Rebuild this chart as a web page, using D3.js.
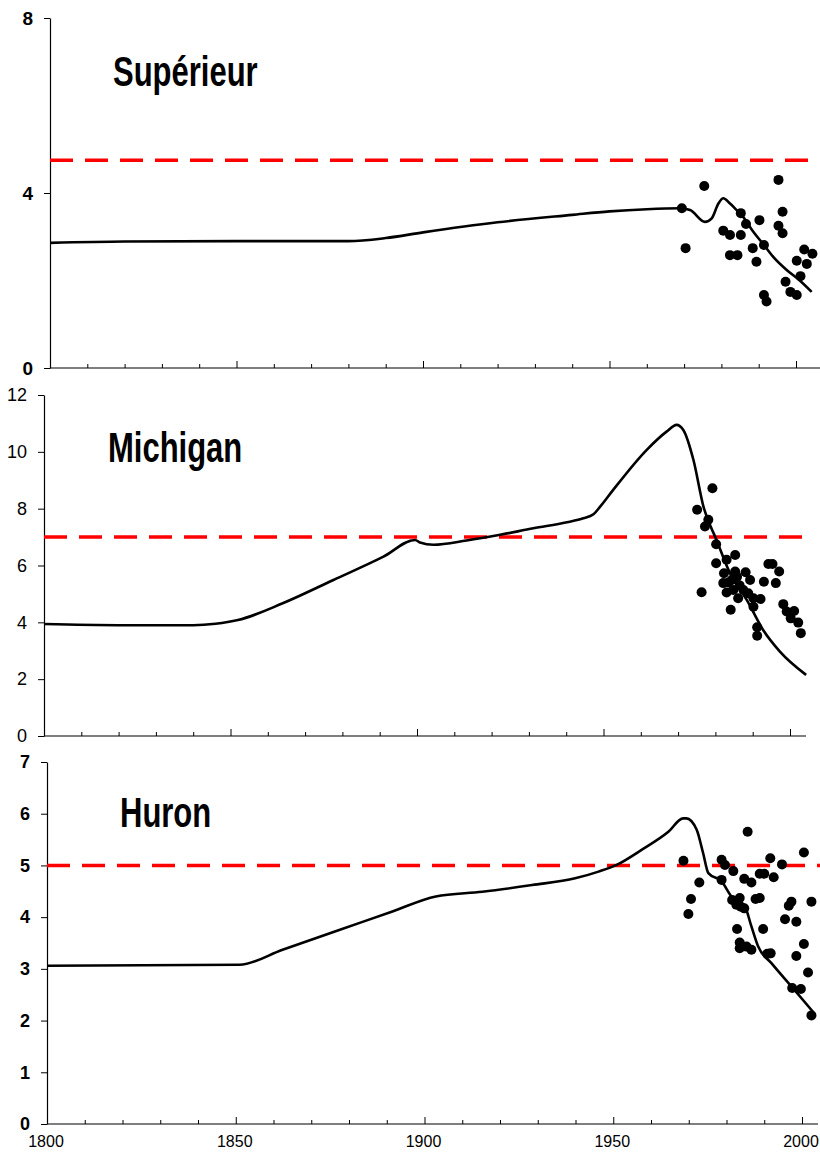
<!DOCTYPE html>
<html>
<head>
<meta charset="utf-8">
<script src="https://cdn.jsdelivr.net/npm/d3@7"></script>
<style>
  body { margin: 0; background: #fff; }
  svg { display: block; font-family: "Liberation Sans", Arial, sans-serif; }
</style>
</head>
<body>
<svg id="chart" width="820" height="1162"></svg>
<script>
// Lake Superior
const supLineYears = [1800, 1820, 1850, 1880, 1890, 1900, 1920, 1940, 1950, 1960, 1969, 1971.6, 1975.6, 1977.4, 1979.2, 1980.5, 1982.3, 1984.1, 1985.4, 1988.5, 1991.4, 1993.9, 1997.5, 2001, 2004.2];
const supLineValues = [2.86, 2.89, 2.9, 2.9, 2.97, 3.1, 3.33, 3.5, 3.58, 3.63, 3.65, 3.61, 3.34, 3.42, 3.76, 3.88, 3.76, 3.61, 3.5, 3.12, 2.81, 2.54, 2.24, 2.0, 1.74];
const supPointYears = [1969.4, 1975.4, 1970.4, 1980.5, 1982.3, 1985.2, 1985.2, 1986.6, 1982.3, 1984.3, 1988.4, 1990.2, 1989.4, 1991.4, 1991.4, 1992.1, 1995.3, 1996.4, 1995.3, 1996.4, 1997.2, 1998.5, 2000.2, 2001.2, 2000.2, 2002.2, 2002.9, 2004.4];
const supPointValues = [3.65, 4.16, 2.74, 3.14, 3.04, 3.04, 3.54, 3.29, 2.58, 2.58, 2.74, 3.38, 2.43, 2.81, 1.67, 1.52, 4.30, 3.57, 3.25, 3.08, 1.97, 1.74, 1.67, 2.10, 2.45, 2.71, 2.38, 2.61];
const supTarget = 4.75;

// Lake Michigan
const micLineYears = [1800, 1820, 1840, 1846, 1852, 1864, 1877.6, 1891, 1899.5, 1900.8, 1904.4, 1913.3, 1922.3, 1931.2, 1940.2, 1944.6, 1947.3, 1949.1, 1952.6, 1961.6, 1966.9, 1969.6, 1971.4, 1974.1, 1976.8, 1980.3, 1983.9, 1988.4, 1992.8, 1997.3, 2004.3];
const micLineValues = [3.94, 3.9, 3.9, 3.95, 4.08, 4.67, 5.49, 6.31, 6.9, 6.81, 6.73, 6.88, 7.08, 7.31, 7.52, 7.66, 7.8, 8.07, 8.66, 10.07, 10.71, 10.95, 10.77, 9.72, 8.07, 6.9, 5.73, 4.79, 3.73, 2.97, 2.15];
const micPointYears = [1979.2, 1975.1, 1978.1, 1977.2, 1980.2, 1980.2, 1983, 1985.3, 1982.3, 1985.3, 1988.1, 1982.1, 1983.5, 1984.4, 1989.3, 1983, 1984.8, 1987.5, 1986.1, 1988.8, 1990.2, 1992.1, 1976.3, 1984.1, 1990.2, 1991.2, 1991.2, 1993, 1994.2, 1995.3, 1997.1, 1996.2, 1998.2, 1999.1, 2001.1, 2000.2, 2002.2, 2002.9, 1986.5, 1985.8];
const micPointValues = [8.72, 7.96, 7.61, 7.37, 6.75, 6.08, 6.20, 6.37, 5.73, 5.79, 5.76, 5.38, 5.40, 5.49, 5.49, 5.05, 5.14, 5.14, 4.85, 5.02, 4.85, 4.82, 5.06, 4.44, 4.55, 3.83, 3.53, 5.43, 6.05, 6.05, 5.79, 5.38, 4.64, 4.38, 4.40, 4.14, 3.99, 3.62, 5.3, 5.6];
const micTarget = 7;

// Lake Huron
const hurLineYears = [1800, 1851, 1862.4, 1877.4, 1891.5, 1903, 1915.3, 1928.5, 1939.9, 1946.1, 1950.9, 1957.5, 1964.6, 1968.5, 1969.4, 1972.1, 1973.8, 1975.2, 1978.7, 1981.3, 1984.9, 1986.6, 1988.4, 1991.9, 1997.2, 2002.9];
const hurLineValues = [3.06, 3.08, 3.37, 3.75, 4.11, 4.40, 4.49, 4.62, 4.75, 4.88, 5.01, 5.30, 5.65, 5.91, 5.91, 5.69, 5.24, 4.85, 4.69, 4.40, 4.20, 3.82, 3.43, 3.11, 2.66, 2.17];
const hurPointYears = [1968.6, 1970.6, 1969.9, 1972.8, 1978.7, 1979.6, 1978.7, 1981.8, 1985.6, 1984.7, 1986.6, 1988.8, 1990.0, 1991.6, 1992.5, 1994.7, 2000.5, 1981.5, 1983.5, 1982.6, 1983.8, 1984.7, 1987.7, 1988.8, 1982.8, 1983.5, 1983.5, 1985.3, 1986.6, 1989.7, 1990.8, 1991.7, 1996.5, 1997.2, 1995.5, 1998.5, 2002.5, 2000.5, 1998.5, 2001.6, 1997.4, 1999.7, 2002.5];
const hurPointValues = [5.09, 4.35, 4.06, 4.67, 5.11, 5.01, 4.72, 4.89, 5.65, 4.74, 4.67, 4.84, 4.84, 5.14, 4.77, 5.02, 5.25, 4.33, 4.37, 4.24, 4.20, 4.17, 4.35, 4.37, 3.77, 3.51, 3.40, 3.43, 3.37, 3.77, 3.29, 3.30, 4.22, 4.30, 3.96, 3.91, 4.30, 3.48, 3.25, 2.93, 2.63, 2.61, 2.10];
const hurTarget = 5;

const xTickYears = d3.range(1800, 2001, 10);
const xLabelYears = [1800, 1850, 1900, 1950, 2000];

const panels = [
  { title: 'Supérieur', lineYears: supLineYears, lineValues: supLineValues,
    pointYears: supPointYears, pointValues: supPointValues, target: supTarget,
    yMax: 8, yTicks: [0, 4, 8], x0: 50, x2000: 796, xEnd: 820, dashEnd: 820,
    top: 18, bottom: 368, titleX: 113, titleY: 86, tickWeight: 'bold', tickFont: 19 },
  { title: 'Michigan', lineYears: micLineYears, lineValues: micLineValues,
    pointYears: micPointYears, pointValues: micPointValues, target: micTarget,
    yMax: 12, yTicks: d3.range(0, 13, 2), x0: 44, x2000: 790, xEnd: 806, dashEnd: 807,
    top: 395, bottom: 736, titleX: 108, titleY: 462, tickWeight: 'normal', tickFont: 18 },
  { title: 'Huron', lineYears: hurLineYears, lineValues: hurLineValues,
    pointYears: hurPointYears, pointValues: hurPointValues, target: hurTarget,
    yMax: 7, yTicks: d3.range(0, 8), x0: 47, x2000: 802, xEnd: 818, dashEnd: 820,
    top: 762, bottom: 1124, titleX: 120, titleY: 827, tickWeight: 'bold', tickFont: 18, xLabels: true }
];

const svg = d3.select('#chart');

panels.forEach(p => {
  const x = d3.scaleLinear().domain([1800, 2000]).range([p.x0, p.x2000]);
  const y = d3.scaleLinear().domain([0, p.yMax]).range([p.bottom, p.top]);
  const g = svg.append('g');

  // y axis
  const yAxis = g.append('g')
    .attr('transform', 'translate(' + p.x0 + ',0)')
    .call(d3.axisLeft(y).tickValues(p.yTicks).tickFormat(d3.format('d'))
      .tickSize(6).tickSizeOuter(0).tickPadding(11));
  yAxis.select('.domain').attr('stroke', '#000').attr('stroke-width', 1.2);
  yAxis.selectAll('.tick line').attr('stroke', '#000');
  yAxis.selectAll('.tick text')
    .attr('fill', '#000')
    .style('font-size', p.tickFont + 'px')
    .style('font-weight', p.tickWeight);

  // x axis, ticks pointing up, long ones every 50 years
  const xAxis = g.append('g')
    .attr('transform', 'translate(0,' + p.bottom + ')')
    .call(d3.axisBottom(x).tickValues(xTickYears).tickSize(-4).tickSizeOuter(0).tickFormat(''));
  xAxis.select('.domain').remove();
  xAxis.selectAll('.tick line')
    .attr('stroke', '#000')
    .attr('y2', d => (d % 50 === 0 ? -7 : -4));
  g.append('line')
    .attr('x1', p.x0).attr('x2', p.xEnd)
    .attr('y1', p.bottom).attr('y2', p.bottom)
    .attr('stroke', '#000').attr('stroke-width', 1.2);

  if (p.xLabels) {
    g.selectAll('.xlab')
      .data(xLabelYears)
      .enter()
      .append('text')
      .attr('x', d => x(d) - 1)
      .attr('y', p.bottom + 23)
      .attr('text-anchor', 'middle')
      .style('font-size', '16px')
      .text(d => d);
  }

  // target line
  g.append('line')
    .attr('x1', p.x0).attr('x2', p.dashEnd)
    .attr('y1', y(p.target)).attr('y2', y(p.target))
    .attr('stroke', '#ff0000')
    .attr('stroke-width', 3.5)
    .attr('stroke-dasharray', '23,12');

  // model curve
  const line = d3.line()
    .x(i => x(p.lineYears[i]))
    .y(i => y(p.lineValues[i]))
    .curve(d3.curveMonotoneX);
  g.append('path')
    .attr('d', line(d3.range(p.lineYears.length)))
    .attr('fill', 'none')
    .attr('stroke', '#000')
    .attr('stroke-width', 2.6);

  // observations
  g.selectAll('.dot')
    .data(d3.range(p.pointYears.length))
    .enter()
    .append('circle')
    .attr('cx', i => x(p.pointYears[i]))
    .attr('cy', i => y(p.pointValues[i]))
    .attr('r', 5)
    .attr('fill', '#000');

  // title
  g.append('text')
    .attr('transform', 'translate(' + p.titleX + ',' + p.titleY + ') scale(1,1.35)')
    .style('font-size', '31px')
    .style('font-weight', 'bold')
    .text(p.title);
});
</script>
</body>
</html>
